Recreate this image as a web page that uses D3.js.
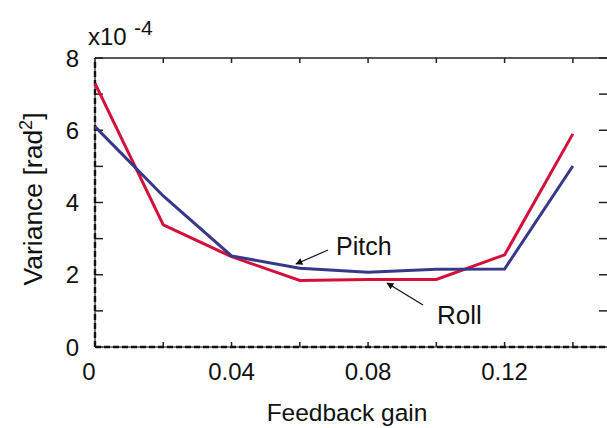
<!DOCTYPE html>
<html>
<head>
<meta charset="utf-8">
<script src="https://cdn.jsdelivr.net/npm/d3@7/dist/d3.min.js"></script>
<style>
  html, body { margin: 0; padding: 0; background: #fff; }
  text { font-family: "Liberation Sans", Arial, sans-serif; fill: #111; }
</style>
</head>
<body>
<svg id="chart" width="607" height="428"></svg>
<script>
// Data (variance in units of 1e-4 rad^2)
const gains = [0, 0.02, 0.04, 0.06, 0.08, 0.10, 0.12, 0.14];
const roll  = [7.3, 3.38, 2.5, 1.84, 1.87, 1.87, 2.55, 5.9];
const pitch = [6.1, 4.18, 2.52, 2.18, 2.07, 2.15, 2.16, 5.01];
const xTickLabels = [0, 0.04, 0.08, 0.12];
const xMinorTicks = [0.02, 0.06, 0.10, 0.14];
const yTickLabels = [0, 2, 4, 6, 8];
const yAllTicks = [0, 1, 2, 3, 4, 5, 6, 7, 8];

const svg = d3.select("#chart");
const x = d3.scaleLinear().domain([0, 0.15]).range([95, 607]);
const y = d3.scaleLinear().domain([0, 8]).range([347, 58]);

const axisColor = "#222";

// Tick marks (inward)
const allX = xTickLabels.concat(xMinorTicks);
const g = svg.append("g");
g.selectAll(".bt").data(allX).enter().append("line")
  .attr("x1", d => x(d)).attr("x2", d => x(d))
  .attr("y1", y(0)).attr("y2", y(0) - 5)
  .attr("stroke", axisColor).attr("stroke-width", 1.5);
g.selectAll(".tt").data(allX).enter().append("line")
  .attr("x1", d => x(d)).attr("x2", d => x(d))
  .attr("y1", y(8)).attr("y2", y(8) + 5)
  .attr("stroke", axisColor).attr("stroke-width", 1.5);
g.selectAll(".lt").data(yAllTicks).enter().append("line")
  .attr("x1", x(0)).attr("x2", x(0) + 8)
  .attr("y1", d => y(d)).attr("y2", d => y(d))
  .attr("stroke", axisColor).attr("stroke-width", 1.5);
g.selectAll(".rt").data(yAllTicks).enter().append("line")
  .attr("x1", x(0.15)).attr("x2", x(0.15) - 8)
  .attr("y1", d => y(d)).attr("y2", d => y(d))
  .attr("stroke", axisColor).attr("stroke-width", 1.5);

// Axis frame lines
function frame(x1, y1, x2, y2) {
  svg.append("line").attr("x1", x1).attr("x2", x2).attr("y1", y1).attr("y2", y2)
    .attr("stroke", "#555").attr("stroke-width", 1.6);
  svg.append("line").attr("x1", x1).attr("x2", x2).attr("y1", y1).attr("y2", y2)
    .attr("stroke", "#111").attr("stroke-width", 2.4).attr("stroke-dasharray", "6,3");
}
frame(x(0), y(0), x(0.15), y(0));
frame(x(0), y(0), x(0), y(8));
svg.append("line").attr("x1", x(0)).attr("x2", x(0.15)).attr("y1", y(8)).attr("y2", y(8))
  .attr("stroke", axisColor).attr("stroke-width", 1.5);

// Tick labels
svg.selectAll(".xl").data(xTickLabels).enter().append("text")
  .attr("x", d => d === 0 ? x(d) - 6 : x(d)).attr("y", 380)
  .attr("text-anchor", "middle").attr("font-size", 24)
  .text(d => d === 0 ? "0" : d3.format(".2f")(d));
svg.selectAll(".yl").data(yTickLabels).enter().append("text")
  .attr("x", 79).attr("y", d => y(d) + 8.5)
  .attr("text-anchor", "end").attr("font-size", 24)
  .text(d => d);

// Exponent label
svg.append("text").attr("x", 88).attr("y", 45).attr("font-size", 24).text("x10");
svg.append("text").attr("x", 134).attr("y", 35).attr("font-size", 21).text("-4");

// Axis titles
svg.append("text").attr("x", 347).attr("y", 421).attr("text-anchor", "middle")
  .attr("font-size", 24.5).text("Feedback gain");
const yt = svg.append("text")
  .attr("transform", "translate(42,199) rotate(-90)")
  .attr("text-anchor", "middle").attr("font-size", 26.5);
yt.append("tspan").text("Variance [rad");
yt.append("tspan").attr("font-size", 18).attr("dy", -10).text("2");
yt.append("tspan").attr("dy", 10).text("]");

// Lines
const line = d3.line().x((d, i) => x(gains[i])).y(d => y(d));
svg.append("path").datum(roll).attr("d", line)
  .attr("fill", "none").attr("stroke", "#d3103a").attr("stroke-width", 3)
  .attr("stroke-linejoin", "miter");
svg.append("path").datum(pitch).attr("d", line)
  .attr("fill", "none").attr("stroke", "#383889").attr("stroke-width", 3)
  .attr("stroke-linejoin", "miter");

// Annotations
const defs = svg.append("defs");
defs.append("marker").attr("id", "ah").attr("viewBox", "0 0 10 10")
  .attr("refX", 9).attr("refY", 5).attr("markerWidth", 9).attr("markerHeight", 7)
  .attr("markerUnits", "userSpaceOnUse").attr("orient", "auto")
  .append("path").attr("d", "M0,0 L10,5 L0,10 Z").attr("fill", "#111");

svg.append("line").attr("x1", 328).attr("y1", 250).attr("x2", 296).attr("y2", 264)
  .attr("stroke", "#111").attr("stroke-width", 1.2).attr("marker-end", "url(#ah)");
svg.append("text").attr("x", 336).attr("y", 255).attr("font-size", 25).text("Pitch");

svg.append("line").attr("x1", 423).attr("y1", 305).attr("x2", 387).attr("y2", 283)
  .attr("stroke", "#111").attr("stroke-width", 1.2).attr("marker-end", "url(#ah)");
svg.append("text").attr("x", 437).attr("y", 324).attr("font-size", 26).text("Roll");
</script>
</body>
</html>
